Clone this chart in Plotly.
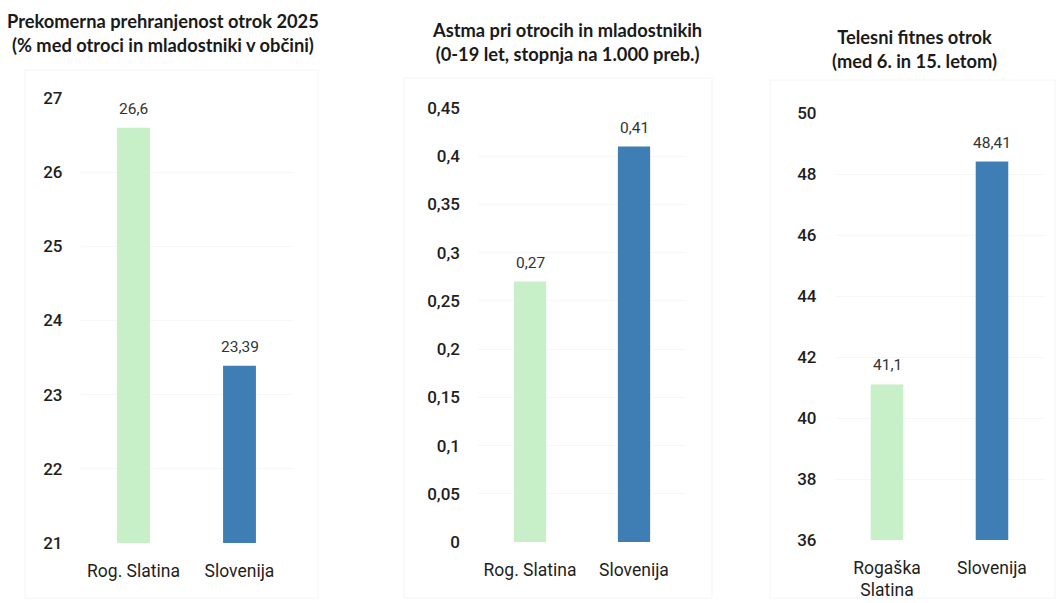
import plotly.graph_objects as go

# --- data -------------------------------------------------------------
obesity_categories = ["Rog. Slatina", "Slovenija"]
obesity_values = [26.6, 23.39]
obesity_ticks = [21, 22, 23, 24, 25, 26, 27]

asthma_categories = ["Rog. Slatina", "Slovenija"]
asthma_values = [0.27, 0.41]
asthma_ticks = [0, 0.05, 0.1, 0.15, 0.2, 0.25, 0.3, 0.35, 0.4, 0.45]

fitness_categories = ["Rogaška<br>Slatina", "Slovenija"]
fitness_values = [41.1, 48.41]
fitness_ticks = [36, 38, 40, 42, 44, 46, 48, 50]

titles = [
    "Prekomerna prehranjenost otrok 2025<br>(% med otroci in mladostniki v občini)",
    "Astma pri otrocih in mladostnikih<br>(0-19 let, stopnja na 1.000 preb.)",
    "Telesni fitnes otrok<br>(med 6. in 15. letom)",
]

# --- styling ----------------------------------------------------------
W, H = 1059, 603
BAR_COLORS = ["#c8f0c8", "#3f7eb4"]
TICK_FONT = dict(family="Roboto, Arial, sans-serif", size=17, color="#1e1e1e", weight=500)
CAT_FONT = dict(family="Roboto, Arial, sans-serif", size=17.5, color="#1e1e1e")
VAL_FONT = dict(family="Roboto, Arial, sans-serif", size=15.5, color="#333333")
TITLE_FONT = dict(family="Lato, 'Open Sans', sans-serif", size=18.3, color="#1a1a1a", weight=700)

# pixel boxes of the three plot areas: (left, right, top, bottom)
boxes = [
    (80.5, 292.5, 98, 543),
    (478, 686, 108, 542),
    (834.5, 1044.5, 113, 540),
]
# title centres (x, y midpoint of the two lines) in pixels
title_pos = [(163, 33), (567, 42), (914, 49)]
# faint panel frames
frames = [(25, 318, 70, 598), (404, 712, 78, 598), (770, 1055, 80, 598)]

panels = [
    (obesity_categories, obesity_values, obesity_ticks, [21, 27]),
    (asthma_categories, asthma_values, asthma_ticks, [0, 0.45]),
    (fitness_categories, fitness_values, fitness_ticks, [36, 50]),
]


def fmt(v):
    return f"{v:g}".replace(".", ",")


fig = go.Figure()
layout = dict(
    width=W,
    height=H,
    autosize=False,
    margin=dict(l=0, r=0, t=0, b=0, pad=0),
    paper_bgcolor="white",
    plot_bgcolor="white",
    showlegend=False,
    separators=",.",
    annotations=[],
    shapes=[],
)

for i, (cats, vals, ticks, yr) in enumerate(panels):
    n = "" if i == 0 else str(i + 1)
    xa, ya = "x" + n, "y" + n
    left, right, top, bottom = boxes[i]

    fig.add_trace(
        go.Bar(
            x=cats,
            y=vals,
            width=0.31,
            marker=dict(color=BAR_COLORS, line=dict(width=0)),
            xaxis=xa,
            yaxis=ya,
            hoverinfo="skip",
        )
    )
    # value labels sit just above each bar
    for c, v in zip(cats, vals):
        layout["annotations"].append(
            dict(
                x=c, y=v, xref=xa, yref=ya, text=fmt(v), showarrow=False,
                yanchor="bottom", yshift=8, font=VAL_FONT,
            )
        )

    layout["xaxis" + n] = dict(
        domain=[left / W, right / W],
        anchor=ya,
        automargin=False,
        showgrid=False,
        showline=False,
        zeroline=False,
        ticks="",
        tickfont=CAT_FONT,
        ticklabelstandoff=15,
        fixedrange=True,
    )
    layout["yaxis" + n] = dict(
        domain=[1 - bottom / H, 1 - top / H],
        anchor=xa,
        automargin=False,
        range=[yr[0], yr[1]],
        tickvals=ticks,
        ticktext=[fmt(t) for t in ticks],
        showgrid=True,
        gridcolor="#f7f7f7",
        gridwidth=1,
        showline=False,
        zeroline=False,
        ticks="",
        tickfont=TICK_FONT,
        ticklabelstandoff=17,
        fixedrange=True,
    )

    tx, ty = title_pos[i]
    layout["annotations"].append(
        dict(
            x=tx / W, y=1 - ty / H, xref="paper", yref="paper", text=titles[i],
            showarrow=False, xanchor="center", yanchor="middle", align="center",
            font=TITLE_FONT,
        )
    )
    fx0, fx1, fy0, fy1 = frames[i]
    layout["shapes"].append(
        dict(
            type="rect", xref="paper", yref="paper",
            x0=fx0 / W, x1=fx1 / W, y0=1 - fy1 / H, y1=1 - fy0 / H,
            line=dict(color="#f4f4f4", width=1), layer="below",
        )
    )

fig.update_layout(**layout)
fig.write_html("out.html")
